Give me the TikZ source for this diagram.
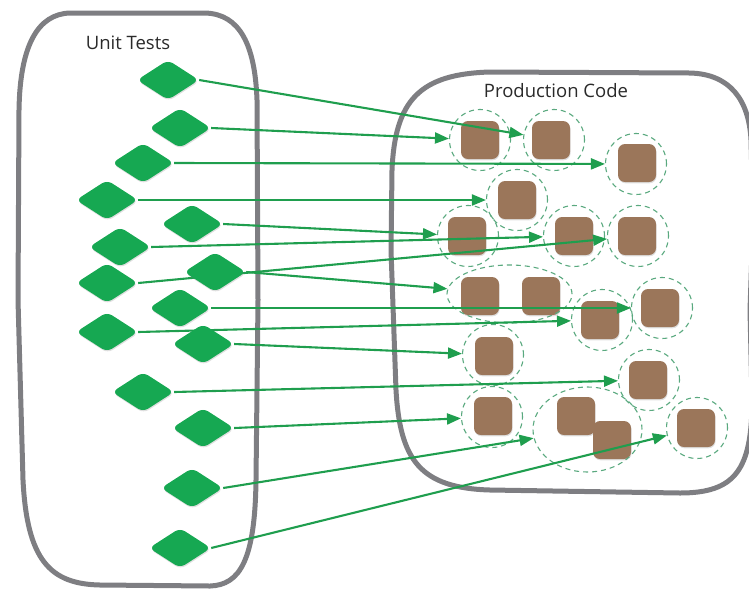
\documentclass[tikz,border=0pt]{standalone}
\usepackage{fontspec}
\setmainfont{Open Sans}
\usetikzlibrary{arrows.meta,shapes.geometric,shadows}
\definecolor{ugreen}{HTML}{16A852}
\definecolor{agreen}{HTML}{1F9E4E}
\definecolor{pbrown}{HTML}{9B765A}
\definecolor{dashc}{HTML}{5AA97F}
\definecolor{boxgrey}{HTML}{7E7E82}
\definecolor{txt}{HTML}{2A2A2A}
\pgfdeclarelayer{back}\pgfdeclarelayer{arrows}\pgfdeclarelayer{front}
\pgfsetlayers{back,main,arrows,front}
\tikzset{
 utest/.style={diamond, aspect=1.55, minimum width=62pt, minimum height=40pt, inner sep=0pt, fill=ugreen, rounded corners=6pt,
   drop shadow={shadow xshift=0.6pt, shadow yshift=-1.3pt, opacity=0.25}},
 unit/.style={rectangle, minimum size=38pt, inner sep=0pt, fill=pbrown, rounded corners=7pt,
   drop shadow={shadow xshift=0.6pt, shadow yshift=-1.3pt, opacity=0.25}},
 scopec/.style={circle, draw=dashc, dash pattern=on 5pt off 4pt, line width=1.1pt, minimum size=61pt, inner sep=0pt},
 scopee/.style={ellipse, draw=dashc, dash pattern=on 5pt off 4pt, line width=1.1pt, inner sep=0pt},
 link/.style={draw=agreen, line width=2.1pt, -{Triangle[length=14pt,width=11pt]}},
 container/.style={draw=boxgrey, line width=5pt, line join=round},
 title/.style={font=\fontsize{18.5}{22}\selectfont, text=txt, inner sep=0pt}
}
\begin{document}
\begin{tikzpicture}[x=1pt,y=-1pt]
\useasboundingbox (0,0) rectangle (749,590);
\begin{pgfonlayer}{back}
\draw[container] (70,13) -- (205,13) .. controls (240,14) and (255,45) .. (257,100) -- (258,300) -- (256,480)
  .. controls (255,560) and (240,585) .. (210,586) -- (100,585) .. controls (50,584) and (27,560) .. (23,480)
  -- (18,300) -- (19,110) .. controls (20,45) and (38,14) .. (70,13) -- cycle;
\draw[container] (490,72) -- (690,73) .. controls (730,74) and (749,100) .. (751,140) -- (753,220) -- (750,310) -- (752,400)
  .. controls (752,470) and (735,493) .. (680,493) -- (490,490) .. controls (420,488) and (400,460) .. (396,390)
  -- (391,250) -- (392,170) .. controls (395,100) and (420,74) .. (490,72) -- cycle;
\end{pgfonlayer}
\node[title] (ut) at (128,43) {Unit Tests};
\node[title] (pc) at (556,91) {Production Code};
% production units
\node[unit] (A) at (480,140) {};
\node[unit] (B) at (551,140) {};
\node[unit] (C) at (637,163) {};
\node[unit] (D) at (517,200) {};
\node[unit] (E) at (467,236) {};
\node[unit] (F) at (574,236) {};
\node[unit] (G) at (637,236) {};
\node[unit] (H) at (480,296) {};
\node[unit] (I) at (541,296) {};
\node[unit] (J) at (600,320) {};
\node[unit] (K) at (660,308) {};
\node[unit] (L) at (494,356) {};
\node[unit] (M) at (648,380) {};
\node[unit] (N) at (493,416) {};
\node[unit] (O) at (576,416) {};
\node[unit] (P) at (612,440) {};
\node[unit] (Q) at (696,428) {};
% dashed scopes
\node[scopec] (cA) at (480,140) {};
\node[scopec] (cB) at (554,140) {};
\node[scopec] (cC) at (636,164) {};
\node[scopec] (cD) at (517,200) {};
\node[scopec] (cE) at (468,236) {};
\node[scopec] (cF) at (574,236) {};
\node[scopec] (cG) at (638,236) {};
\node[scopee, minimum width=125pt, minimum height=58pt] (eHI) at (509.5,294) {};
\node[scopec] (cJ) at (602,320) {};
\node[scopec] (cK) at (662,308) {};
\node[scopec] (cL) at (493,355) {};
\node[scopec] (cM) at (649,380) {};
\node[scopec] (cN) at (492,417) {};
\node[scopee, minimum width=109pt, minimum height=85pt] (eOP) at (587.5,429.5) {};
\node[scopec] (cQ) at (697,428) {};
% unit tests
\begin{pgfonlayer}{front}
\node[utest] (d1) at (168,80) {};
\node[utest] (d2) at (180,128) {};
\node[utest] (d3) at (143,163) {};
\node[utest] (d4) at (107,200) {};
\node[utest] (d5) at (192,224) {};
\node[utest] (d6) at (120,247) {};
\node[utest] (d7) at (107,283) {};
\node[utest] (d8) at (215,272) {};
\node[utest] (d9) at (180,308) {};
\node[utest] (d10) at (107,332) {};
\node[utest] (d11) at (203,344) {};
\node[utest] (d12) at (143,392) {};
\node[utest] (d13) at (203,428) {};
\node[utest] (d14) at (192,488) {};
\node[utest] (d15) at (180,548) {};
\end{pgfonlayer}
\begin{pgfonlayer}{arrows}
\draw[link] (d1.east) -- (cB);
\draw[link] (d2.east) -- (cA);
\draw[link] (d3.east) -- (cC);
\draw[link] (d4.east) -- (cD);
\draw[link] (d5.east) -- (cE);
\draw[link] (d6.east) -- (cF);
\draw[link] (d7.east) -- (cG);
\draw[link] (d8.east) -- (eHI);
\draw[link] (d9.east) -- (cK);
\draw[link] (d10.east) -- (cJ);
\draw[link] (d11.east) -- (cL);
\draw[link] (d12.east) -- (cM);
\draw[link] (d13.east) -- (cN);
\draw[link] (d14.east) -- (eOP);
\draw[link] (d15.east) -- (cQ);
\end{pgfonlayer}
\end{tikzpicture}
\end{document}
